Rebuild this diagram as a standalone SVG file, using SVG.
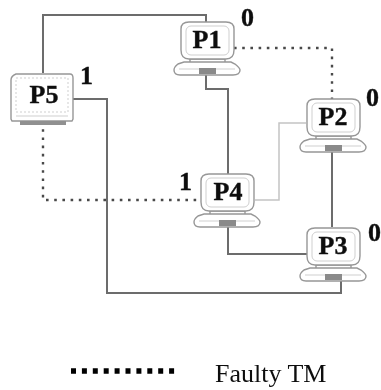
<svg xmlns="http://www.w3.org/2000/svg" width="381" height="390" viewBox="0 0 381 390">
<style>
.solid{fill:none;stroke:#6c6c6c;stroke-width:2}
.light{fill:none;stroke:#c4c4c4;stroke-width:1.5}
.dot{fill:none;stroke:#4a4a4a;stroke-width:2.4;stroke-dasharray:2.6 5.6}
.out{fill:#fff;stroke:#979797;stroke-width:1.4}
.in{fill:none;stroke:#cfcfcf;stroke-width:1}
.vent{fill:#8a8a8a;stroke:none}
text{font-family:"Liberation Serif","Times New Roman",serif;fill:#111}
.b{font-weight:bold;font-size:26px;stroke:#111;stroke-width:0.4}
.c{text-anchor:middle}
</style>
<defs>
<filter id="soft" x="-5%" y="-5%" width="110%" height="110%"><feGaussianBlur stdDeviation="0.7"/></filter>
<g id="pc">
<path class="out" d="M9 37H44V41H9Z"/>
<path class="out" d="M8 0H45Q53 0 53 7V28Q53 37 45 37H8Q0 37 0 28V7Q0 0 8 0Z"/>
<rect class="in" x="5" y="4" width="43" height="29" rx="5"/>
<path class="out" d="M3 40H50L54 42Q59 46 59 48Q59 53 52 53H-1Q-7 53 -7 48Q-7 45 -3 42Z"/>
<path class="in" d="M-2 47H54"/>
<rect class="vent" x="18" y="46" width="17" height="6"/>
</g>
</defs>
<g filter="url(#soft)">
<g id="connectors">
<path class="solid" d="M43 73V15H206V24"/>
<path class="solid" d="M73 99H107V293H341V277"/>
<path class="solid" d="M206 72V89H228V174"/>
<path class="solid" d="M332 150V227"/>
<path class="solid" d="M228 224V254H307"/>
<path class="light" d="M306 123H279V200H255"/>
<path class="dot" d="M234 48H332V99"/>
<path class="dot" d="M43 121V200H200"/>
</g>
<g id="P1"><use href="#pc" x="181" y="22"/><text class="b c" x="207" y="48">P1</text><text class="b" x="241" y="26">0</text></g>
<g id="P2"><use href="#pc" x="307" y="99"/><text class="b c" x="333" y="125">P2</text><text class="b" x="366" y="106">0</text></g>
<g id="P3"><use href="#pc" x="307" y="228"/><text class="b c" x="333" y="254">P3</text><text class="b" x="368" y="241">0</text></g>
<g id="P4"><use href="#pc" x="201" y="174"/><text class="b c" x="228" y="200">P4</text><text class="b" x="179" y="190">1</text></g>
<g id="P5">
<path class="out" d="M16 74H70Q73 74 73 78V119L72 121H12L11 119V80Q11 76 16 74Z"/>
<rect class="in" x="16" y="78" width="52" height="34" stroke-dasharray="2 2"/>
<line class="in" x1="16" y1="116" x2="68" y2="116"/>
<rect x="20" y="121" width="46" height="4" fill="#909090"/>
<text class="b c" x="44" y="103">P5</text>
<text class="b" x="80" y="84">1</text>
</g>
<g id="legend">
<path d="M71 371H174.5" fill="none" stroke="#000" stroke-width="5.5" stroke-dasharray="5 5.9"/>
<text x="215" y="382" font-size="26" fill="#2c2c2c">Faulty TM</text>
</g>
</g>
</svg>
